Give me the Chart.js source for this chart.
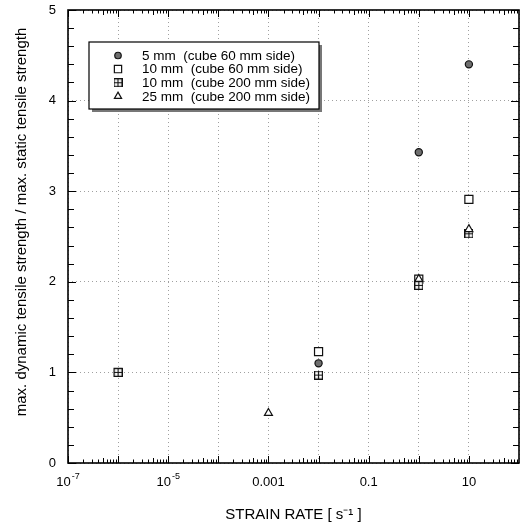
<!DOCTYPE html>
<html lang="en">
<head>
  <meta charset="UTF-8">
  <title>Strain rate vs tensile strength</title>
  <script src="https://cdn.jsdelivr.net/npm/chart.js"></script>
  <style>
    body { margin: 0; background: #fff; }
    #wrap { width: 527px; height: 525px; }
  </style>
</head>
<body>
  <div id="wrap"><canvas id="grafico" width="527" height="525"></canvas></div>
  <script>
    // dados
    const seriesNames = [
      '5 mm  (cube 60 mm side)',
      '10 mm  (cube 60 mm side)',
      '10 mm  (cube 200 mm side)',
      '25 mm  (cube 200 mm side)'
    ];
    const rate5mm = [0.01, 1, 10];
    const ratio5mm = [1.10, 3.43, 4.40];
    const rate10mm60 = [1e-6, 0.01, 1, 10];
    const ratio10mm60 = [1.0, 1.23, 2.03, 2.91];
    const rate10mm200 = [1e-6, 0.01, 1, 10];
    const ratio10mm200 = [1.0, 0.97, 1.96, 2.53];
    const rate25mm = [0.001, 1, 10];
    const ratio25mm = [0.55, 2.03, 2.58];

    const xDecades = [1e-7, 1e-6, 1e-5, 1e-4, 1e-3, 1e-2, 1e-1, 1, 10, 100];
    const xTickValues = [1e-7, 1e-5, 0.001, 0.1, 10];
    // [base, expoente] -> "10" com expoente sobrescrito
    const xTickLabels = [['10', '-7'], ['10', '-5'], ['0.001', ''], ['0.1', ''], ['10', '']];
    const yTickValues = [0, 1, 2, 3, 4, 5];
    const yTitle = 'max. dynamic tensile strength / max. static tensile strength';
    const xTitle = 'STRAIN RATE [ s\u207B\u00B9 ]';

    const fonte = 'Liberation Sans, Arial, Helvetica, sans-serif';

    // quadrado com cruz (marcador do 10 mm cube 200)
    const quadCruz = document.createElement('canvas');
    quadCruz.width = 9; quadCruz.height = 9;
    (function () {
      const c = quadCruz.getContext('2d');
      c.fillStyle = '#fff';
      c.fillRect(0, 0, 9, 9);
      c.strokeStyle = '#111';
      c.lineWidth = 1.2;
      c.strokeRect(0.6, 0.6, 7.8, 7.8);
      c.beginPath();
      c.moveTo(4.5, 0); c.lineTo(4.5, 9);
      c.moveTo(0, 4.5); c.lineTo(9, 4.5);
      c.stroke();
    })();

    const estilos = [
      { pointStyle: 'circle', radius: 3.6, bg: '#6e6e6e' },
      { pointStyle: 'rect', radius: 5.7, bg: '#fff' },
      { pointStyle: quadCruz, radius: 4.5, bg: '#fff' },
      { pointStyle: 'triangle', radius: 4.6, bg: '#fff' }
    ];

    function pontos(xs, ys) {
      return xs.map((x, i) => ({ x: x, y: ys[i] }));
    }

    const dadosSeries = [
      pontos(rate5mm, ratio5mm),
      pontos(rate10mm60, ratio10mm60),
      pontos(rate10mm200, ratio10mm200),
      pontos(rate25mm, ratio25mm)
    ];

    // moldura, marcas internas, rótulos do eixo x, título y e legenda com sombra
    const molduraPlugin = {
      id: 'moldura',
      afterDraw(chart) {
        const ctx = chart.ctx;
        const a = chart.chartArea;
        const sx = chart.scales.x, sy = chart.scales.y;
        ctx.save();
        ctx.strokeStyle = '#000';
        ctx.lineWidth = 1;
        // marcas do eixo x
        ctx.beginPath();
        for (let e = -7; e < 2; e++) {
          for (let k = 1; k < 10; k++) {
            const v = k * Math.pow(10, e);
            const px = Math.round(sx.getPixelForValue(v)) + 0.5;
            const len = k === 1 ? 7 : (k === 5 ? 5 : 3.5);
            ctx.moveTo(px, a.bottom); ctx.lineTo(px, a.bottom - len);
            ctx.moveTo(px, a.top); ctx.lineTo(px, a.top + len);
          }
        }
        // marcas do eixo y
        for (let i = 0; i <= 25; i++) {
          const py = Math.round(sy.getPixelForValue(i * 0.2)) + 0.5;
          const len = i % 5 === 0 ? 8 : 6;
          ctx.moveTo(a.left, py); ctx.lineTo(a.left + len, py);
          ctx.moveTo(a.right, py); ctx.lineTo(a.right - len, py);
        }
        ctx.stroke();
        ctx.lineWidth = 1.6;
        ctx.strokeRect(a.left, a.top, a.right - a.left, a.bottom - a.top);

        // rótulos do eixo x
        ctx.fillStyle = '#000';
        ctx.textBaseline = 'middle';
        ctx.textAlign = 'left';
        xTickValues.forEach((v, i) => {
          const px = sx.getPixelForValue(v);
          const [base, exp] = xTickLabels[i];
          ctx.font = '13px ' + fonte;
          const wb = ctx.measureText(base).width;
          ctx.font = '9px ' + fonte;
          const we = exp ? ctx.measureText(exp).width + 1 : 0;
          const x0 = px - (wb + we) / 2;
          ctx.font = '13px ' + fonte;
          ctx.fillText(base, x0, a.bottom + 19);
          if (exp) {
            ctx.font = '9px ' + fonte;
            ctx.fillText(exp, x0 + wb + 1, a.bottom + 14);
          }
        });

        // título do eixo y
        ctx.save();
        ctx.translate(22, 222);
        ctx.rotate(-Math.PI / 2);
        ctx.textAlign = 'center';
        ctx.font = '15px ' + fonte;
        ctx.fillText(yTitle, 0, 0);
        ctx.restore();

        // legenda
        const lx = 89, ly = 42, lw = 230, lh = 67;
        ctx.fillStyle = '#777';
        ctx.fillRect(lx + 3, ly + 3, lw, lh);
        ctx.fillStyle = '#fff';
        ctx.fillRect(lx, ly, lw, lh);
        ctx.lineWidth = 1.2;
        ctx.strokeStyle = '#000';
        ctx.strokeRect(lx, ly, lw, lh);
        ctx.textAlign = 'left';
        seriesNames.forEach((nome, i) => {
          const y = 55.5 + i * 13.6;
          const est = estilos[i];
          ctx.fillStyle = est.bg;
          ctx.strokeStyle = '#111';
          ctx.lineWidth = 1.2;
          Chart.helpers.drawPoint(ctx, {
            pointStyle: est.pointStyle, radius: est.radius * 0.9, rotation: 0, borderWidth: 1.2
          }, 118, y);
          ctx.fillStyle = '#000';
          ctx.font = '13.5px ' + fonte;
          ctx.fillText(nome, 142, y + 0.5);
        });
        ctx.restore();
      }
    };

    const grafico = new Chart(document.getElementById('grafico'), {
      type: 'scatter',
      data: {
        datasets: dadosSeries.map((d, i) => ({
          label: seriesNames[i],
          data: d,
          order: dadosSeries.length - i,
          pointStyle: estilos[i].pointStyle,
          pointRadius: estilos[i].radius,
          pointHoverRadius: estilos[i].radius,
          pointBackgroundColor: estilos[i].bg,
          pointBorderColor: '#111',
          pointBorderWidth: 1.2,
          showLine: false
        }))
      },
      options: {
        responsive: false,
        animation: false,
        devicePixelRatio: 1,
        layout: { padding: { top: 10, right: 8, left: 0, bottom: 0 } },
        plugins: {
          legend: { display: false },
          tooltip: { enabled: false }
        },
        scales: {
          x: {
            type: 'logarithmic',
            min: 1e-7,
            max: 100,
            afterBuildTicks: scale => {
              scale.ticks = xDecades.map(v => ({ value: v }));
            },
            afterFit: scale => {
              scale.height = 62;
              scale.paddingLeft = 0;
              scale.paddingRight = 0;
            },
            ticks: { display: false, autoSkip: false },
            grid: {
              drawTicks: false,
              color: '#a0a0a0',
              lineWidth: 1,
              borderDash: [1, 3]
            },
            border: { display: false, dash: [1, 3] },
            title: {
              display: true,
              text: xTitle,
              color: '#000',
              font: { family: fonte, size: 15 },
              padding: { top: 4, bottom: 1 }
            }
          },
          y: {
            min: 0,
            max: 5,
            afterBuildTicks: scale => {
              scale.ticks = yTickValues.map(v => ({ value: v }));
            },
            afterFit: scale => {
              scale.width = 68;
              scale.paddingTop = 0;
              scale.paddingBottom = 0;
            },
            ticks: {
              color: '#000',
              padding: 12,
              font: { family: fonte, size: 13 }
            },
            grid: {
              drawTicks: false,
              color: '#a0a0a0',
              lineWidth: 1,
              borderDash: [1, 3]
            },
            border: { display: false, dash: [1, 3] }
          }
        }
      },
      plugins: [molduraPlugin]
    });
  </script>
</body>
</html>
